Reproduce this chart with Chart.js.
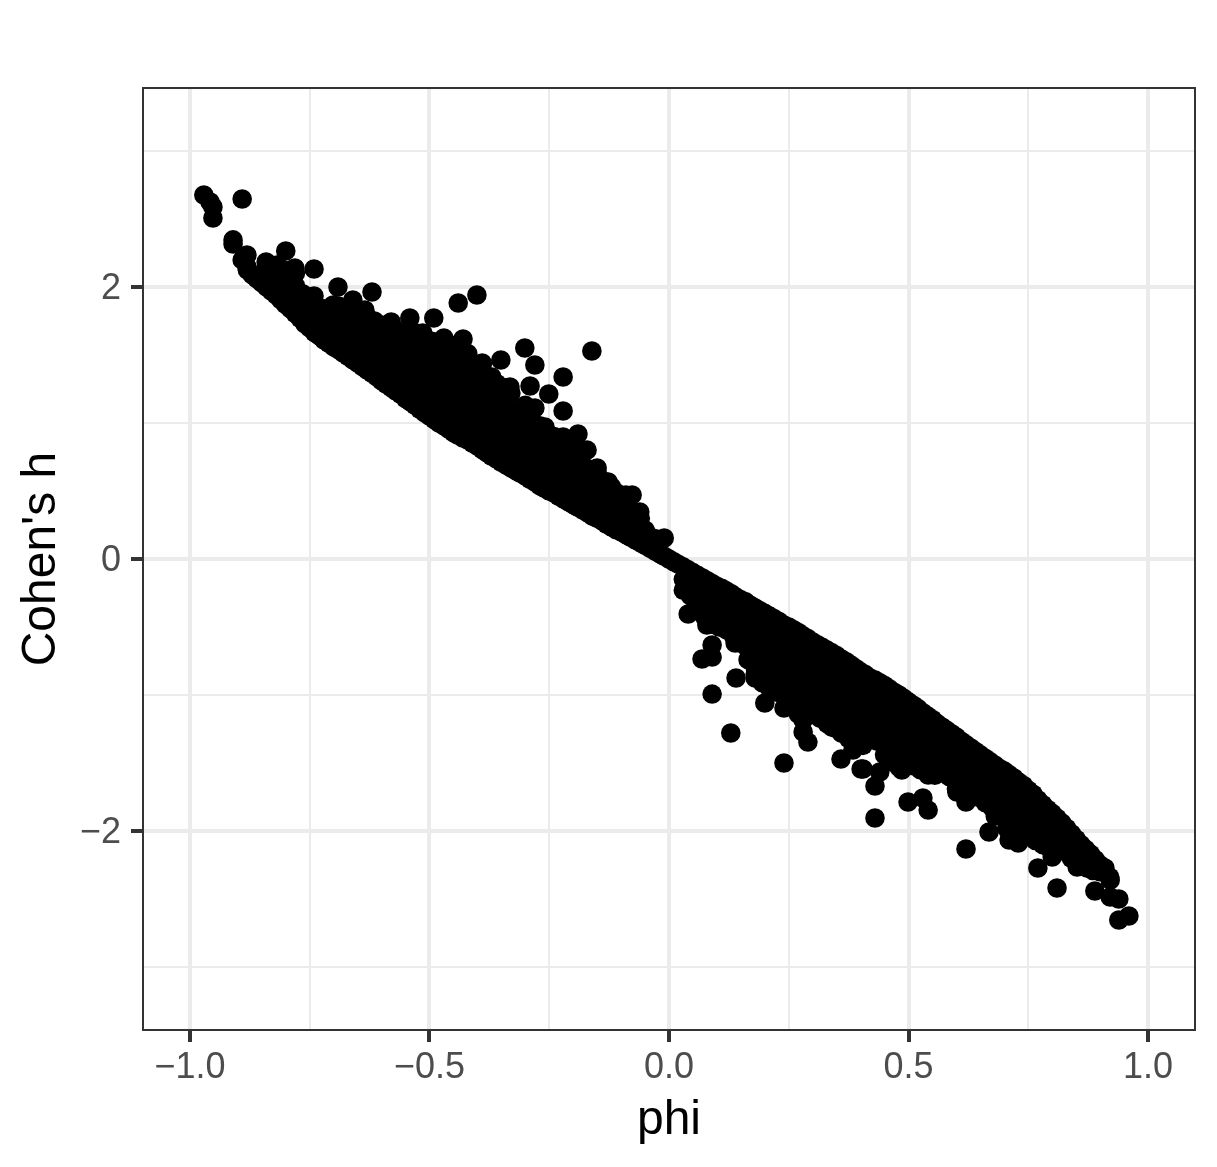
<!DOCTYPE html>
<html>
<head>
    <title>Cohen's h vs phi</title>
    <style>
        body { margin: 0; background: #ffffff; }
        canvas { display: block; }
    </style>
    <script src="https://cdn.jsdelivr.net/npm/chart.js"></script>
</head>
<body>
    <canvas id="chart" width="1217" height="1167"></canvas>

    <script>
        // tick labels
        const xTickValues = [-1, -0.75, -0.5, -0.25, 0, 0.25, 0.5, 0.75, 1];
        const xMajorLabels = { '-1': '−1.0', '-0.5': '−0.5', '0': '0.0', '0.5': '0.5', '1': '1.0' };
        const yTickValues = [-3, -2, -1, 0, 1, 2, 3];
        const yMajorLabels = { '-2': '−2', '0': '0', '2': '2' };

        // upper-left branch: lower edge of the cloud
        const leftEdgePhi = [-0.88, -0.86, -0.84, -0.82, -0.80, -0.78, -0.76, -0.74, -0.72, -0.70, -0.68, -0.66, -0.64, -0.62, -0.60, -0.58, -0.56, -0.54, -0.52, -0.50, -0.48, -0.46, -0.44, -0.42, -0.40, -0.38, -0.36, -0.34, -0.32, -0.30, -0.28, -0.26, -0.24, -0.22, -0.20, -0.18, -0.16, -0.14, -0.12, -0.10, -0.08, -0.06, -0.04, -0.02, 0];
        const leftEdgeH = [2.125, 2.06, 2.00, 1.94, 1.87, 1.805, 1.73, 1.665, 1.61, 1.56, 1.515, 1.465, 1.415, 1.365, 1.31, 1.26, 1.21, 1.155, 1.10, 1.05, 1.00, 0.955, 0.91, 0.875, 0.83, 0.78, 0.735, 0.69, 0.65, 0.61, 0.565, 0.52, 0.485, 0.44, 0.40, 0.36, 0.315, 0.28, 0.235, 0.20, 0.16, 0.12, 0.08, 0.04, 0];
        const leftEdgeMidPhi = [-0.87, -0.85, -0.83, -0.81, -0.79, -0.77, -0.75, -0.73, -0.71, -0.69, -0.67, -0.65, -0.63, -0.61, -0.59, -0.57, -0.55, -0.53, -0.51, -0.49, -0.47, -0.45, -0.43, -0.41, -0.39, -0.37, -0.35, -0.33, -0.31, -0.29, -0.27, -0.25, -0.23, -0.21, -0.19, -0.17, -0.15, -0.13, -0.11, -0.09, -0.07, -0.05, -0.03, -0.01];
        const leftEdgeMidH = [2.09, 2.03, 1.97, 1.905, 1.84, 1.77, 1.70, 1.64, 1.585, 1.54, 1.49, 1.44, 1.39, 1.34, 1.285, 1.235, 1.18, 1.13, 1.075, 1.025, 0.98, 0.93, 0.89, 0.85, 0.805, 0.755, 0.71, 0.67, 0.63, 0.585, 0.54, 0.50, 0.46, 0.42, 0.38, 0.34, 0.30, 0.255, 0.215, 0.18, 0.14, 0.10, 0.06, 0.02];

        // upper-left branch: inside of the cloud, one list of h per phi
        const leftFillPhi = [-0.84, -0.81, -0.78, -0.75, -0.72, -0.69, -0.66, -0.63, -0.60, -0.57, -0.54, -0.51, -0.48, -0.45, -0.42, -0.39, -0.36, -0.33, -0.30, -0.27, -0.24, -0.21, -0.18, -0.15, -0.12, -0.09, -0.06, -0.03];
        const leftFillH = [
            [2.08, 2.16], [2.0, 2.11], [1.90, 2.01, 2.1], [1.80, 1.92], [1.72, 1.84], [1.65, 1.76, 1.86],
            [1.57, 1.68, 1.78], [1.5, 1.6, 1.7, 1.78], [1.42, 1.53, 1.63, 1.72], [1.35, 1.46, 1.57, 1.68],
            [1.27, 1.38, 1.49, 1.6, 1.68], [1.19, 1.3, 1.41, 1.52, 1.63], [1.12, 1.23, 1.34, 1.45, 1.55],
            [1.04, 1.15, 1.26, 1.37, 1.48, 1.57], [0.98, 1.09, 1.2, 1.31, 1.42, 1.51], [0.92, 1.03, 1.14, 1.25, 1.36, 1.43],
            [0.85, 0.96, 1.07, 1.18, 1.29], [0.78, 0.89, 1.0, 1.11, 1.22], [0.72, 0.83, 0.94, 1.05, 1.13],
            [0.65, 0.76, 0.87, 0.98], [0.6, 0.71, 0.82, 0.9], [0.53, 0.64, 0.75, 0.86], [0.47, 0.58, 0.69, 0.78],
            [0.41, 0.52, 0.63], [0.34, 0.45, 0.53], [0.29, 0.4, 0.47], [0.22, 0.3], [0.15]
        ];
        const leftFillMidPhi = [-0.825, -0.795, -0.765, -0.735, -0.705, -0.675, -0.645, -0.615, -0.585, -0.555, -0.525, -0.495, -0.465, -0.435, -0.405, -0.375, -0.345, -0.315, -0.285, -0.255, -0.225, -0.195, -0.165, -0.135, -0.105, -0.075, -0.045];
        const leftFillMidH = [
            [2.03, 2.12], [1.95, 2.05, 2.12], [1.85, 1.95], [1.74, 1.85], [1.68, 1.79], [1.6, 1.71, 1.82],
            [1.52, 1.63, 1.74], [1.45, 1.56, 1.67, 1.75], [1.38, 1.49, 1.6, 1.7], [1.31, 1.42, 1.53, 1.64],
            [1.24, 1.35, 1.46, 1.57, 1.66], [1.16, 1.27, 1.38, 1.49, 1.6], [1.08, 1.19, 1.3, 1.41, 1.52],
            [1.01, 1.12, 1.23, 1.34, 1.45, 1.53], [0.95, 1.06, 1.17, 1.28, 1.39], [0.88, 0.99, 1.1, 1.21, 1.32],
            [0.82, 0.93, 1.04, 1.15, 1.26], [0.75, 0.86, 0.97, 1.08], [0.68, 0.79, 0.9, 1.01], [0.63, 0.74, 0.85, 0.93],
            [0.56, 0.67, 0.78, 0.88], [0.5, 0.61, 0.72, 0.82], [0.44, 0.55, 0.66], [0.38, 0.49, 0.57], [0.31, 0.42],
            [0.25, 0.35], [0.18]
        ];

        // upper-left branch: points that stand out on the upper side
        const leftOuterPhi = [-0.971, -0.958, -0.952, -0.952, -0.891, -0.910, -0.910, -0.881, -0.891, -0.881, -0.841, -0.818, -0.80, -0.781, -0.741, -0.785, -0.691, -0.66, -0.62, -0.741, -0.701, -0.635, -0.58, -0.541, -0.491, -0.47, -0.43, -0.44, -0.401, -0.514, -0.39, -0.351, -0.301, -0.28, -0.161, -0.221, -0.29, -0.251, -0.221, -0.332, -0.37, -0.28, -0.259, -0.221, -0.19, -0.171, -0.15, -0.127, -0.077, -0.061, -0.05, -0.01, -0.109, -0.43];
        const leftOuterH = [2.676, 2.625, 2.588, 2.507, 2.647, 2.346, 2.316, 2.235, 2.199, 2.147, 2.184, 2.162, 2.265, 2.14, 2.132, 2.029, 2.0, 1.904, 1.963, 1.934, 1.868, 1.831, 1.743, 1.772, 1.772, 1.625, 1.618, 1.882, 1.941, 1.662, 1.441, 1.463, 1.551, 1.426, 1.529, 1.338, 1.272, 1.213, 1.088, 1.265, 1.338, 1.11, 0.971, 0.897, 0.919, 0.801, 0.669, 0.566, 0.471, 0.346, 0.213, 0.154, 0.485, 1.441];

        // lower-right branch: upper edge of the cloud
        const rightEdgePhi = [0.02, 0.04, 0.06, 0.08, 0.10, 0.12, 0.14, 0.16, 0.18, 0.20, 0.22, 0.24, 0.26, 0.28, 0.30, 0.32, 0.34, 0.36, 0.38, 0.40, 0.42, 0.44, 0.46, 0.48, 0.50, 0.52, 0.54, 0.56, 0.58, 0.60, 0.62, 0.64, 0.66, 0.68, 0.70, 0.72, 0.74, 0.76, 0.78, 0.80, 0.82, 0.84, 0.86, 0.88, 0.90, 0.92];
        const rightEdgeH = [-0.04, -0.08, -0.12, -0.16, -0.20, -0.235, -0.28, -0.315, -0.36, -0.40, -0.44, -0.485, -0.52, -0.565, -0.61, -0.65, -0.69, -0.735, -0.78, -0.83, -0.875, -0.91, -0.955, -1.00, -1.05, -1.10, -1.155, -1.21, -1.26, -1.31, -1.365, -1.415, -1.465, -1.515, -1.56, -1.61, -1.665, -1.73, -1.805, -1.87, -1.94, -2.02, -2.10, -2.17, -2.25, -2.34];
        const rightEdgeMidPhi = [0.01, 0.03, 0.05, 0.07, 0.09, 0.11, 0.13, 0.15, 0.17, 0.19, 0.21, 0.23, 0.25, 0.27, 0.29, 0.31, 0.33, 0.35, 0.37, 0.39, 0.41, 0.43, 0.45, 0.47, 0.49, 0.51, 0.53, 0.55, 0.57, 0.59, 0.61, 0.63, 0.65, 0.67, 0.69, 0.71, 0.73, 0.75, 0.77, 0.79, 0.81, 0.83, 0.85, 0.87, 0.89, 0.91];
        const rightEdgeMidH = [-0.02, -0.06, -0.10, -0.14, -0.18, -0.215, -0.255, -0.30, -0.34, -0.38, -0.42, -0.46, -0.50, -0.54, -0.585, -0.63, -0.67, -0.71, -0.755, -0.805, -0.85, -0.89, -0.93, -0.98, -1.025, -1.075, -1.13, -1.18, -1.235, -1.285, -1.34, -1.39, -1.44, -1.49, -1.54, -1.585, -1.64, -1.70, -1.77, -1.84, -1.905, -1.98, -2.06, -2.135, -2.21, -2.295];

        // lower-right branch: inside of the cloud
        const rightFillPhi = [0.03, 0.06, 0.09, 0.12, 0.15, 0.18, 0.21, 0.24, 0.27, 0.30, 0.33, 0.36, 0.39, 0.42, 0.45, 0.48, 0.51, 0.54, 0.57, 0.60, 0.63, 0.66, 0.69, 0.72, 0.75, 0.78, 0.81, 0.84, 0.87, 0.90];
        const rightFillH = [
            [-0.15, -0.23], [-0.22, -0.32], [-0.28, -0.38, -0.48], [-0.34, -0.45, -0.52], [-0.41, -0.52, -0.62],
            [-0.47, -0.58, -0.69, -0.8, -0.85], [-0.53, -0.64, -0.75, -0.86, -0.95], [-0.6, -0.71, -0.82, -0.93, -1.0],
            [-0.65, -0.76, -0.87, -0.98, -1.09, -1.14], [-0.72, -0.83, -0.94, -1.05, -1.14], [-0.78, -0.89, -1.0, -1.11, -1.21],
            [-0.85, -0.96, -1.07, -1.18, -1.28], [-0.92, -1.03, -1.14, -1.25, -1.36], [-0.98, -1.09, -1.2, -1.31],
            [-1.04, -1.15, -1.26, -1.37, -1.44], [-1.12, -1.23, -1.34, -1.45, -1.53], [-1.19, -1.3, -1.41, -1.52],
            [-1.27, -1.38, -1.49, -1.57], [-1.35, -1.46, -1.57], [-1.42, -1.53, -1.64, -1.69], [-1.5, -1.61, -1.72],
            [-1.57, -1.68, -1.79], [-1.65, -1.76, -1.87], [-1.72, -1.83, -1.94, -2.04], [-1.81, -1.92, -2.03],
            [-1.92, -2.03, -2.1], [-2.0, -2.1], [-2.1, -2.2], [-2.18, -2.26], [-2.3]
        ];
        const rightFillMidPhi = [0.045, 0.075, 0.105, 0.135, 0.165, 0.195, 0.225, 0.255, 0.285, 0.315, 0.345, 0.375, 0.405, 0.435, 0.465, 0.495, 0.525, 0.555, 0.585, 0.615, 0.645, 0.675, 0.705, 0.735, 0.765, 0.795, 0.825, 0.855, 0.885];
        const rightFillMidH = [
            [-0.18, -0.27], [-0.25, -0.35, -0.43], [-0.31, -0.42, -0.5], [-0.38, -0.49, -0.57], [-0.44, -0.55, -0.66, -0.74],
            [-0.5, -0.61, -0.72, -0.83, -0.91], [-0.56, -0.67, -0.78, -0.89, -0.98], [-0.62, -0.73, -0.84, -0.95, -1.06],
            [-0.68, -0.79, -0.9, -1.01, -1.12], [-0.75, -0.86, -0.97, -1.08, -1.17], [-0.82, -0.93, -1.04, -1.15, -1.24],
            [-0.88, -0.99, -1.1, -1.21, -1.32], [-0.95, -1.06, -1.17, -1.28, -1.37], [-1.01, -1.12, -1.23, -1.34],
            [-1.08, -1.19, -1.3, -1.41, -1.49], [-1.16, -1.27, -1.38, -1.49], [-1.24, -1.35, -1.46, -1.55],
            [-1.31, -1.42, -1.53, -1.59], [-1.38, -1.49, -1.6], [-1.45, -1.56, -1.67], [-1.53, -1.64, -1.75],
            [-1.61, -1.72, -1.83], [-1.68, -1.79, -1.9, -1.98], [-1.76, -1.87, -1.98, -2.06], [-1.87, -1.98, -2.07],
            [-1.95, -2.05, -2.13], [-2.05, -2.15], [-2.14, -2.22], [-2.23, -2.29]
        ];

        // lower-right branch: points that stand out on the lower side
        const rightOuterPhi = [0.04, 0.05, 0.079, 0.09, 0.09, 0.069, 0.138, 0.14, 0.09, 0.129, 0.24, 0.2, 0.24, 0.18, 0.184, 0.28, 0.29, 0.28, 0.34, 0.359, 0.401, 0.43, 0.44, 0.43, 0.499, 0.53, 0.541, 0.486, 0.541, 0.384, 0.405, 0.601, 0.62, 0.62, 0.681, 0.668, 0.71, 0.729, 0.77, 0.81, 0.8, 0.852, 0.873, 0.889, 0.921, 0.939, 0.939, 0.96, 0.921, 0.91];
        const rightOuterH = [-0.404, -0.279, -0.485, -0.632, -0.721, -0.735, -0.618, -0.875, -0.993, -1.279, -1.5, -1.059, -1.096, -0.875, -0.757, -1.272, -1.346, -1.184, -1.235, -1.471, -1.544, -1.669, -1.566, -1.904, -1.787, -1.757, -1.846, -1.551, -1.588, -1.404, -1.544, -1.713, -1.787, -2.132, -1.89, -2.007, -2.066, -2.088, -2.272, -2.419, -2.191, -2.265, -2.272, -2.441, -2.485, -2.5, -2.654, -2.625, -2.36, -2.272];

        function pairs(phi, h) {
            return phi.map((p, i) => ({ x: p, y: h[i] }));
        }

        function columns(phi, hLists) {
            return phi.flatMap((p, i) => hLists[i].map(h => ({ x: p, y: h })));
        }

        const points = [
            ...columns(leftFillPhi, leftFillH),
            ...columns(leftFillMidPhi, leftFillMidH),
            ...columns(rightFillPhi, rightFillH),
            ...columns(rightFillMidPhi, rightFillMidH),
            ...pairs(leftEdgePhi, leftEdgeH),
            ...pairs(leftEdgeMidPhi, leftEdgeMidH),
            ...pairs(rightEdgePhi, rightEdgeH),
            ...pairs(rightEdgeMidPhi, rightEdgeMidH),
            ...pairs(leftOuterPhi, leftOuterH),
            ...pairs(rightOuterPhi, rightOuterH)
        ];

        // ggplot style panel border on all four sides
        const panelBorder = {
            id: 'panelBorder',
            afterDatasetsDraw(chart) {
                const { ctx, chartArea: a } = chart;
                ctx.save();
                ctx.strokeStyle = '#333333';
                ctx.lineWidth = 2;
                ctx.strokeRect(a.left, a.top, a.right - a.left, a.bottom - a.top);
                ctx.restore();
            }
        };

        const gridFor = (labels) => ({
            color: '#ebebeb',
            lineWidth: (c) => (labels[c.tick.value] !== undefined ? 4 : 2),
            tickColor: (c) => (labels[c.tick.value] !== undefined ? '#333333' : 'transparent'),
            tickWidth: (c) => (labels[c.tick.value] !== undefined ? 4 : 0),
            tickLength: 12
        });

        const tickFont = { family: '"Liberation Sans"', size: 36 };
        const titleFont = { family: '"Liberation Sans"', size: 48 };

        new Chart(document.getElementById('chart'), {
            type: 'scatter',
            data: {
                datasets: [{
                    data: points,
                    backgroundColor: '#000000',
                    borderWidth: 0,
                    pointRadius: 9.8,
                    pointHoverRadius: 9.8
                }]
            },
            plugins: [panelBorder],
            options: {
                responsive: false,
                animation: false,
                events: [],
                layout: { padding: { left: 0, top: 88, right: 22, bottom: 0 } },
                plugins: { legend: { display: false }, tooltip: { enabled: false } },
                scales: {
                    x: {
                        min: -1.098,
                        max: 1.098,
                        afterBuildTicks: (s) => { s.ticks = xTickValues.map(v => ({ value: v })); },
                        afterFit: (s) => { s.height = 137; },
                        border: { display: false },
                        grid: gridFor(xMajorLabels),
                        ticks: {
                            autoSkip: false,
                            maxRotation: 0,
                            padding: 4,
                            color: '#4d4d4d',
                            font: tickFont,
                            callback: (v) => xMajorLabels[v] || ''
                        },
                        title: { display: true, text: 'phi', color: '#000000', font: titleFont, padding: { top: 0, bottom: 17 } }
                    },
                    y: {
                        min: -3.463,
                        max: 3.463,
                        afterBuildTicks: (s) => { s.ticks = yTickValues.map(v => ({ value: v })); },
                        afterFit: (s) => { s.width = 143; },
                        border: { display: false },
                        grid: gridFor(yMajorLabels),
                        ticks: {
                            autoSkip: false,
                            padding: 10,
                            labelOffset: 2.5,
                            color: '#4d4d4d',
                            font: tickFont,
                            callback: (v) => yMajorLabels[v] || ''
                        },
                        title: { display: true, text: "Cohen's h", color: '#000000', font: titleFont, padding: { top: 13, bottom: 0 } }
                    }
                }
            }
        });
    </script>
</body>
</html>
